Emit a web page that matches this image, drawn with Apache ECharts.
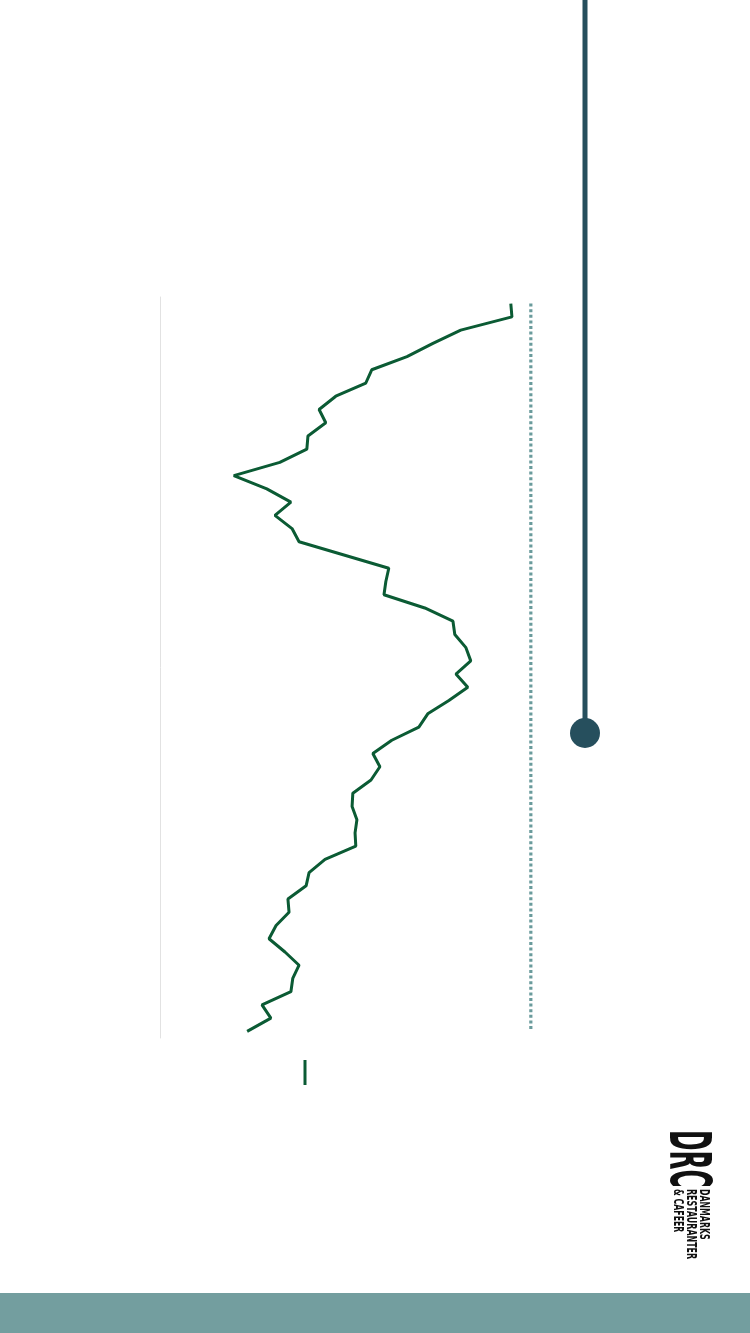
<!DOCTYPE html>
<html>
<head>
<meta charset="utf-8">
<title>DRC omsætning</title>
<script src="https://cdn.jsdelivr.net/npm/echarts@6/dist/echarts.min.js"></script>
<style>
  html, body { margin: 0; padding: 0; background: #ffffff; }
  #chart { width: 750px; height: 1333px; }
</style>
</head>
<body>
<div id="chart"></div>
<script>
// uger (kategorier), læses oppefra og ned
var weeks = ['1', '2', '3', '4', '5', '6', '7', '8', '9', '10',
    '11', '12', '13', '14', '15', '16', '17', '18', '19', '20',
    '21', '22', '23', '24', '25', '26', '27', '28', '29', '30',
    '31', '32', '33', '34', '35', '36', '37', '38', '39', '40',
    '41', '42', '43', '44', '45', '46', '47', '48', '49', '50',
    '51', '52', '53', '54', '55', '56'];

// ændring i pct. ift. året før (aflæst)
var change = [-5.4, -5.1, -18.9, -26.4, -33.4, -42.9, -44.5, -52.6, -57.1, -55.3,
    -60.1, -60.4, -67.7, -80.1, -71.2, -64.7, -69.0, -64.4, -62.5, -50.4,
    -38.3, -39.1, -39.6, -28.6, -21.0, -20.5, -17.5, -16.2, -20.2, -17.0,
    -22.1, -27.8, -30.2, -37.5, -42.6, -40.7, -43.1, -48.0, -48.2, -46.9,
    -47.4, -47.2, -55.5, -59.8, -60.6, -65.5, -65.2, -68.7, -70.6, -66.3,
    -62.5, -64.2, -64.7, -72.5, -70.1, -76.5];

// niveau året før
var baseline = [0, 0, 0, 0, 0, 0, 0, 0, 0, 0,
    0, 0, 0, 0, 0, 0, 0, 0, 0, 0,
    0, 0, 0, 0, 0, 0, 0, 0, 0, 0,
    0, 0, 0, 0, 0, 0, 0, 0, 0, 0,
    0, 0, 0, 0, 0, 0, 0, 0, 0, 0,
    0, 0, 0, 0, 0, 0];

var valueRange = [-100, 20];

var chart = echarts.init(document.getElementById('chart'));

var option = {
    animation: false,
    backgroundColor: '#ffffff',
    grid: {
        left: 160,
        right: 145,
        top: 297,
        bottom: 295
    },
    legend: {
        data: ['Omsætning'],
        left: 303.5,
        top: 1060,
        padding: 0,
        icon: 'rect',
        itemWidth: 3,
        itemHeight: 25,
        itemGap: 0,
        formatter: function () { return ''; },
        selectedMode: false
    },
    xAxis: {
        type: 'value',
        min: valueRange[0],
        max: valueRange[1],
        axisLine: { show: false },
        axisTick: { show: false },
        axisLabel: { show: false },
        splitLine: { show: false }
    },
    yAxis: {
        type: 'category',
        inverse: true,
        boundaryGap: true,
        data: weeks,
        axisLine: {
            show: true,
            onZero: false,
            lineStyle: { color: '#e2e2e2', width: 1 }
        },
        axisTick: { show: false },
        axisLabel: { show: false },
        splitLine: { show: false }
    },
    series: [
        {
            name: 'Året før',
            type: 'line',
            data: baseline,
            symbol: 'none',
            silent: true,
            lineStyle: { color: '#6a9b9c', width: 3.2, type: [3, 2.6] },
            z: 2
        },
        {
            name: 'Omsætning',
            type: 'line',
            data: change,
            symbol: 'none',
            color: '#0b5b34',
            lineStyle: { color: '#0b5b34', width: 3 },
            z: 3
        }
    ],
    graphic: [
        {
            type: 'line',
            shape: { x1: 585, y1: 0, x2: 585, y2: 733 },
            style: { stroke: '#264f5d', lineWidth: 5 }
        },
        {
            type: 'circle',
            shape: { cx: 585, cy: 733, r: 15 },
            style: { fill: '#264f5d' }
        },
        {
            type: 'rect',
            shape: { x: 0, y: 1293, width: 750, height: 40 },
            style: { fill: '#739e9f' }
        },
        {
            type: 'group',
            x: 712,
            y: 1130,
            rotation: -Math.PI / 2,
            children: [
                {
                    type: 'text',
                    x: 0,
                    y: 27,
                    scaleX: 0.48,
                    style: {
                        text: 'DRC',
                        fill: '#111111',
                        font: 'bold 57px "DejaVu Sans Condensed", "DejaVu Sans"',
                        verticalAlign: 'middle',
                        align: 'left'
                    }
                },
                {
                    type: 'text',
                    x: 59,
                    y: 8,
                    scaleX: 0.62,
                    style: {
                        text: 'DANMARKS',
                        fill: '#111111',
                        font: 'bold 14px "DejaVu Sans Condensed", "DejaVu Sans"',
                        verticalAlign: 'middle',
                        align: 'left'
                    }
                },
                {
                    type: 'text',
                    x: 59,
                    y: 21,
                    scaleX: 0.63,
                    style: {
                        text: 'RESTAURANTER',
                        fill: '#111111',
                        font: 'bold 14px "DejaVu Sans Condensed", "DejaVu Sans"',
                        verticalAlign: 'middle',
                        align: 'left'
                    }
                },
                {
                    type: 'text',
                    x: 59,
                    y: 34,
                    scaleX: 0.62,
                    style: {
                        text: '& CAFEER',
                        fill: '#111111',
                        font: 'bold 14px "DejaVu Sans Condensed", "DejaVu Sans"',
                        verticalAlign: 'middle',
                        align: 'left'
                    }
                }
            ]
        }
    ]
};

chart.setOption(option);
</script>
</body>
</html>
